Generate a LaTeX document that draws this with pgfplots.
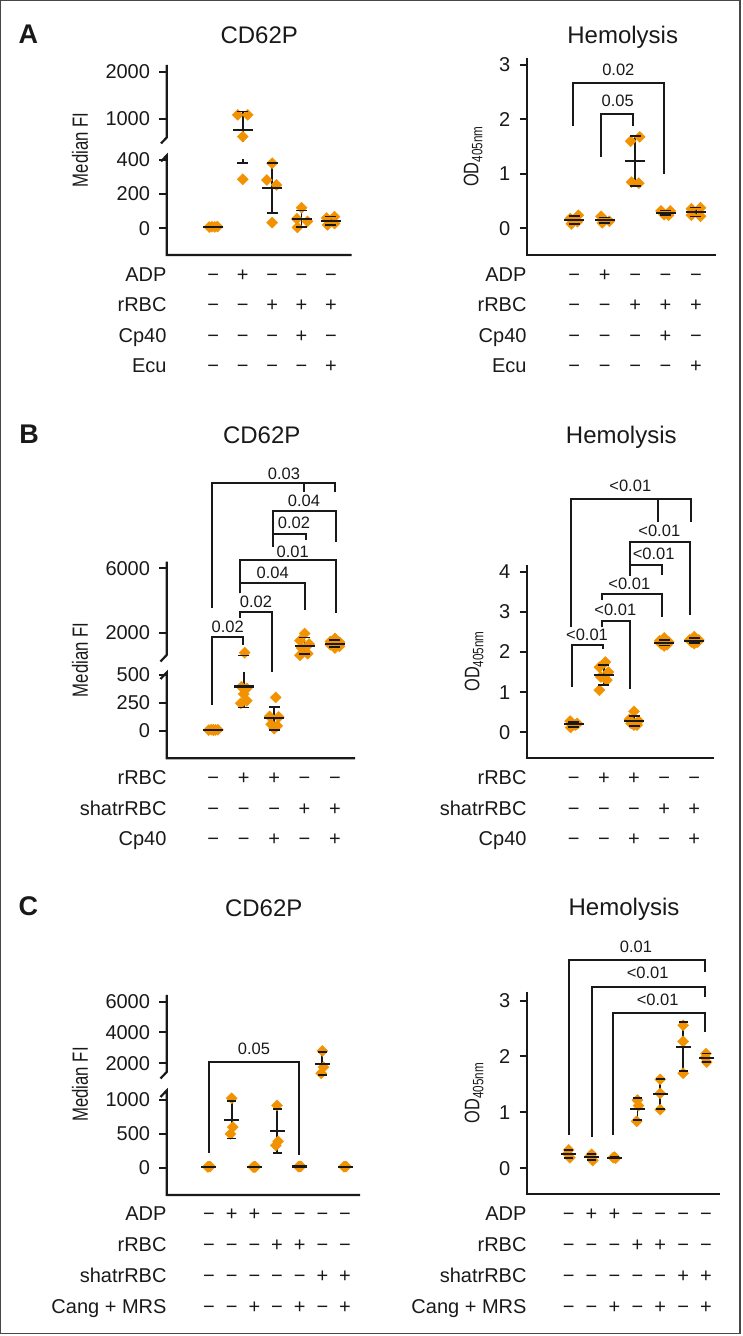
\documentclass[border=0pt]{standalone}
\usepackage{fontspec}
\setmainfont{Liberation Sans}
\usepackage{graphicx}
\usepackage{pgfplots}
\pgfplotsset{compat=1.18}
\definecolor{dot}{RGB}{242,146,0}
\definecolor{ink}{RGB}{25,25,25}
\newcommand{\fs}[1]{\fontsize{#1pt}{#1pt}\selectfont}
\newcommand{\mi}{−}
\newcommand{\signs}[4]{\foreach \s [count=\i] in {#4}{\node[anchor=base,inner sep=0pt,font=\fs{20},text=ink] at ({#1+(\i-1)*#2},#3) {\s};}}
\pgfplotsset{
 panel/.style={scale only axis, clip=false, anchor=south west,
   axis x line*=bottom, axis y line*=left, axis line style={draw=none},
   xtick=\empty, tick align=outside, major tick length=7.5pt,
   tick style={ink, line width=2pt},
   yticklabel style={font=\fs{20}, inner sep=0pt, text=ink, xshift=-9pt},
   /pgf/number format/assume math mode=true},
 pts/.style={only marks, mark=square*, mark size=3.9pt, color=dot, mark options={rotate=45, draw=none, fill=dot}},
 eb/.style={ink, line width=1.7pt, mark=-, mark size=5.5pt, mark options={solid, line width=1.7pt}},
 mn/.style={ink, only marks, mark=-, mark size=10pt, mark options={line width=2.1pt}},
}
\tikzset{br/.style={ink, line width=1.8pt}, pl/.style={font=\fs{16.5}, inner sep=0pt, text=ink},
 ttl/.style={anchor=base, inner sep=0pt, font=\fs{24}, text=ink},
 lab/.style={anchor=base east, inner sep=0pt, font=\fs{20}, text=ink},
 let/.style={anchor=base west, inner sep=0pt, font=\fs{27}\bfseries, text=ink},
 axl/.style={ink, line width=2.2pt},
 yl/.style={rotate=90, inner sep=0pt, text=ink}}
\newcommand{\mfi}{\scalebox{0.76}[1]{\fs{22}Median FI}}
\newcommand{\od}{\scalebox{0.78}[1]{\fs{21}OD\raisebox{-4pt}{\fs{15}405nm}}}
\begin{document}
\begin{tikzpicture}
\useasboundingbox (0,0) rectangle (742pt,1336pt);
% ---------------- A CD62P
\begin{axis}[panel, at={(166.7pt,1081pt)}, width=185pt, height=190pt,
  xmin=-0.585, xmax=5.704, ymin=-155.9, ymax=2142,
  y coord trafo/.code={\pgfmathparse{ifthenelse(#1<=430,#1*0.1713,109.6+(#1-1000)*0.047)}},
  ytick={0,200,400,1000,2000}, yticklabels={0,200,400,1000,2000}]
\addplot[pts] coordinates {(0.86,7) (0.95,9) (1.05,8) (1.14,10) (1.83,1080) (2.17,1080) (2.0,617) (2.0,286) (3.0,380) (2.82,282) (3.15,253) (3.0,33) (4.0,120) (3.84,55) (4.2,40) (3.86,5) (4.85,60) (5.12,68) (4.88,20) (5.12,28)};
\addplot[eb] coordinates {(1,6.5) (1,10)};
\addplot[eb, mark indices={1}] coordinates {(2,379) (2,405)};
\addplot[eb, mark indices={2}] coordinates {(2,511) (2,1153)};
\addplot[eb] coordinates {(3,91) (3,383)};
\addplot[eb] coordinates {(4,7) (4,103)};
\addplot[eb] coordinates {(5,20) (5,68)};
\addplot[mn] coordinates {(1,8.5) (2,766) (3,237) (4,55) (5,44)};
\end{axis}
% ---------------- A Hemolysis
\begin{axis}[panel, at={(527pt,1081pt)}, width=189pt, height=196.7pt,
  xmin=-0.556, xmax=5.658, ymin=-0.49, ymax=3.125, ytick={0,1,2,3}, yticklabels={0,1,2,3}]
\addplot[pts] coordinates {(0.87,0.18) (1.13,0.24) (0.9,0.08) (1.1,0.12) (1.88,0.22) (2.0,0.15) (2.15,0.13) (1.92,0.1) (2.85,1.6) (3.15,1.68) (2.88,0.85) (3.12,0.83) (3.85,0.32) (4.15,0.32) (3.95,0.25) (4.1,0.24) (4.85,0.36) (5.15,0.38) (4.85,0.24) (5.15,0.22)};
\addplot[eb] coordinates {(1,0.085) (1,0.225)};
\addplot[eb] coordinates {(2,0.10) (2,0.20)};
\addplot[eb] coordinates {(3,0.777) (3,1.703)};
\addplot[eb] coordinates {(4,0.24) (4,0.33)};
\addplot[eb] coordinates {(5,0.22) (5,0.38)};
\addplot[mn] coordinates {(1,0.155) (2,0.15) (3,1.24) (4,0.283) (5,0.30)};
\end{axis}
% ---------------- B CD62P
\begin{axis}[panel, at={(166.7pt,577.7pt)}, width=188.3pt, height=196.6pt,
  xmin=-0.533, xmax=5.658, ymin=-243.75, ymax=6410,
  y coord trafo/.code={\pgfmathparse{ifthenelse(#1<=527,#1*0.112,98.3+(#1-2000)*0.0161)}},
  ytick={0,250,500,2000,6000}, yticklabels={0,250,500,2000,6000}]
\addplot[pts] coordinates {(0.85,8) (0.93,12) (1.0,10) (1.07,9) (1.15,11) (1.0,7)
 (2.03,760) (1.92,395) (2.1,381) (2.0,330) (1.9,247) (2.1,270)
 (3.05,300) (2.85,130) (3.15,125) (2.9,60) (3.1,45) (3.0,20)
 (4.0,1950) (3.85,1500) (4.15,1300) (3.9,1050) (4.1,700) (3.85,600)
 (5.0,1650) (4.85,1450) (5.15,1400) (4.85,1250) (5.15,1150) (5.0,1050)};
\addplot[eb] coordinates {(1,7.5) (1,11.5)};
\addplot[eb, mark indices={1}] coordinates {(2,210) (2,527)};
\addplot[eb, only marks] coordinates {(2,584)};
\addplot[eb] coordinates {(3,11.5) (3,214.5)};
\addplot[eb] coordinates {(4,675) (4,1692)};
\addplot[eb] coordinates {(5,1107) (5,1544)};
\addplot[mn] coordinates {(1,9.5) (2,397) (3,113) (4,1183) (5,1325)};
\end{axis}
% ---------------- B Hemolysis
\begin{axis}[panel, at={(527pt,577.7pt)}, width=187.3pt, height=193.3pt,
  xmin=-0.549, xmax=5.663, ymin=-0.648, ymax=4.167, ytick={0,1,2,3,4}, yticklabels={0,1,2,3,4}]
\addplot[pts] coordinates {(0.88,0.28) (1.12,0.22) (0.95,0.2) (1.05,0.18) (0.9,0.12) (1.1,0.2)
 (2.05,1.75) (1.85,1.62) (2.15,1.5) (1.9,1.38) (2.1,1.3) (1.85,1.05)
 (3.0,0.52) (2.85,0.32) (3.15,0.28) (2.9,0.22) (3.1,0.18) (3.0,0.18)
 (4.0,2.35) (3.85,2.28) (4.15,2.25) (3.9,2.2) (4.1,2.18) (4.0,2.15)
 (5.0,2.38) (4.85,2.3) (5.15,2.3) (4.9,2.25) (5.1,2.24) (5.0,2.21)};
\addplot[eb] coordinates {(1,0.14) (1,0.26)};
\addplot[eb] coordinates {(2,1.185) (2,1.681)};
\addplot[eb] coordinates {(3,0.154) (3,0.412)};
\addplot[eb] coordinates {(4,2.163) (4,2.307)};
\addplot[eb] coordinates {(5,2.22) (5,2.34)};
\addplot[mn] coordinates {(1,0.2) (2,1.433) (3,0.283) (4,2.235) (5,2.28)};
\end{axis}
% ---------------- C CD62P
\begin{axis}[panel, at={(166.7pt,141pt)}, width=193.3pt, height=200pt,
  xmin=-0.866, xmax=7.662, ymin=-403.3, ymax=6435,
  y coord trafo/.code={\pgfmathparse{ifthenelse(#1<=1100,#1*0.0677,104.4+(#1-2000)*0.0154)}},
  ytick={0,500,1000,2000,4000,6000}, yticklabels={0,500,1000,2000,4000,6000}]
\addplot[pts] coordinates {(0.95,12) (1.0,15) (1.05,18) (2.0,1025) (2.05,600) (1.95,500) (2.95,10) (3.0,12) (3.05,14) (4.0,920) (4.05,390) (3.95,330) (4.95,15) (5.0,18) (5.05,20) (6.0,2800) (6.05,1750) (5.95,1350) (6.95,14) (7.0,16) (7.05,18)};
\addplot[eb, mark size=4.5pt] coordinates {(2,429) (2,987)};
\addplot[eb, mark size=4.5pt] coordinates {(4,222) (4,872)};
\addplot[eb, mark size=4.5pt] coordinates {(6,1218) (6,2716)};
\addplot[mn, mark size=7.5pt] coordinates {(1,15) (2,708) (3,12) (4,547) (5,18) (6,1967) (7,16)};
\end{axis}
% ---------------- C Hemolysis
\begin{axis}[panel, at={(527pt,141.7pt)}, width=193.3pt, height=202.6pt,
  xmin=-0.823, xmax=7.625, ymin=-0.465, ymax=3.159, ytick={0,1,2,3}, yticklabels={0,1,2,3}]
\addplot[pts] coordinates {(1.0,0.33) (0.95,0.26) (1.05,0.19) (2.0,0.25) (1.95,0.22) (2.05,0.14) (3.0,0.2) (2.95,0.19) (3.05,0.18) (4.0,1.22) (4.05,1.12) (3.97,0.84) (5.0,1.59) (5.0,1.34) (5.0,1.05) (6.0,2.56) (6.0,2.27) (6.0,1.70) (7.0,2.05) (6.97,1.98) (7.03,1.9)};
\addplot[eb, mark size=4.5pt] coordinates {(1,0.19) (1,0.33)};
\addplot[eb, mark size=4.5pt] coordinates {(2,0.146) (2,0.26)};
\addplot[eb, mark size=4.5pt] coordinates {(3,0.18) (3,0.2)};
\addplot[eb, mark size=4.5pt] coordinates {(4,0.863) (4,1.257)};
\addplot[eb, mark size=4.5pt] coordinates {(5,1.057) (5,1.597)};
\addplot[eb, mark size=4.5pt] coordinates {(6,1.739) (6,2.614)};
\addplot[eb, mark size=4.5pt] coordinates {(7,1.902) (7,2.052)};
\addplot[mn, mark size=7.5pt] coordinates {(1,0.26) (2,0.203) (3,0.19) (4,1.06) (5,1.327) (6,2.177) (7,1.977)};
\end{axis}
% ================= annotations (pixel coordinates, y downward)
\begin{scope}[x=1pt,y=-1pt,yshift=1336pt]
\draw[line width=1.3pt, ink!80] (0.65,0.65) rectangle (740,1333.3);
% axis lines
\draw[axl] (161,161.5) -- (166.7,155.5) -- (166.7,255) -- (351.7,255);
\draw[axl] (166.7,65) -- (166.7,137.5) -- (161,143.5);
\draw[axl] (527,58.3) -- (527,255) -- (716,255);
\draw[axl] (160.5,679) -- (166.7,672.5) -- (166.7,758.3) -- (355,758.3);
\draw[axl] (166.7,561.7) -- (166.7,655) -- (160.5,661.5);
\draw[axl] (527,565) -- (527,758.3) -- (714.3,758.3);
\draw[axl] (160.5,1097) -- (166.7,1090.5) -- (166.7,1195) -- (360,1195);
\draw[axl] (166.7,995) -- (166.7,1072) -- (160.5,1078.5);
\draw[axl] (527,991.7) -- (527,1194.3) -- (720.3,1194.3);
% letters and titles
\node[let] at (18.5,43.3) {A};
\node[let] at (19.3,443.3) {B};
\node[let] at (18.5,916) {C};
\node[ttl] at (259.2,43.3) {CD62P};
\node[ttl] at (622.7,43.3) {Hemolysis};
\node[ttl] at (261.7,443.3) {CD62P};
\node[ttl] at (621.3,443.3) {Hemolysis};
\node[ttl] at (263.7,916.5) {CD62P};
\node[ttl] at (624,916) {Hemolysis};
% y labels
\node[yl] at (80,150) {\mfi};
\node[yl] at (80,660) {\mfi};
\node[yl] at (80,1084.5) {\mfi};
\node[yl] at (473,156.7) {\od};
\node[yl] at (474,661.5) {\od};
\node[yl] at (474,1093) {\od};
% tables A
\node[lab] at (166.7,281.7) {ADP}; \signs{213.3}{29.4}{281.7}{\mi,+,\mi,\mi,\mi}
\node[lab] at (166.7,312) {rRBC}; \signs{213.3}{29.4}{312}{\mi,\mi,+,+,+}
\node[lab] at (166.7,342.3) {Cp40}; \signs{213.3}{29.4}{342.3}{\mi,\mi,\mi,+,\mi}
\node[lab] at (166.7,372.7) {Ecu}; \signs{213.3}{29.4}{372.7}{\mi,\mi,\mi,\mi,+}
\node[lab] at (526.7,281.7) {ADP}; \signs{574.3}{30.4}{281.7}{\mi,+,\mi,\mi,\mi}
\node[lab] at (526.7,312) {rRBC}; \signs{574.3}{30.4}{312}{\mi,\mi,+,+,+}
\node[lab] at (526.7,342.3) {Cp40}; \signs{574.3}{30.4}{342.3}{\mi,\mi,\mi,+,\mi}
\node[lab] at (526.7,372.7) {Ecu}; \signs{574.3}{30.4}{372.7}{\mi,\mi,\mi,\mi,+}
% tables B
\node[lab] at (166.7,785) {rRBC}; \signs{213.3}{30.4}{785}{\mi,+,+,\mi,\mi}
\node[lab] at (166.7,815.5) {shatrRBC}; \signs{213.3}{30.4}{815.5}{\mi,\mi,\mi,+,+}
\node[lab] at (166.7,846) {Cp40}; \signs{213.3}{30.4}{846}{\mi,\mi,+,\mi,+}
\node[lab] at (526.7,785) {rRBC}; \signs{573.7}{30.15}{785}{\mi,+,+,\mi,\mi}
\node[lab] at (526.7,815.5) {shatrRBC}; \signs{573.7}{30.15}{815.5}{\mi,\mi,\mi,+,+}
\node[lab] at (526.7,846) {Cp40}; \signs{573.7}{30.15}{846}{\mi,\mi,+,\mi,+}
% tables C
\node[lab] at (166.7,1221) {ADP}; \signs{209}{22.67}{1221}{\mi,+,+,\mi,\mi,\mi,\mi}
\node[lab] at (166.7,1252) {rRBC}; \signs{209}{22.67}{1252}{\mi,\mi,\mi,+,+,\mi,\mi}
\node[lab] at (166.7,1283) {shatrRBC}; \signs{209}{22.67}{1283}{\mi,\mi,\mi,\mi,\mi,+,+}
\node[lab] at (166.7,1314) {Cang + MRS}; \signs{209}{22.67}{1314}{\mi,\mi,+,\mi,+,\mi,+}
\node[lab] at (526.7,1221) {ADP}; \signs{568.7}{22.88}{1221}{\mi,+,+,\mi,\mi,\mi,\mi}
\node[lab] at (526.7,1252) {rRBC}; \signs{568.7}{22.88}{1252}{\mi,\mi,\mi,+,+,\mi,\mi}
\node[lab] at (526.7,1283) {shatrRBC}; \signs{568.7}{22.88}{1283}{\mi,\mi,\mi,\mi,\mi,+,+}
\node[lab] at (526.7,1314) {Cang + MRS}; \signs{568.7}{22.88}{1314}{\mi,\mi,+,\mi,+,\mi,+}
% brackets A hemolysis
\draw[br] (572.7,126) -- (572.7,82.7) -- (664.3,82.7) -- (664.3,174);
\node[pl] at (618.3,70) {0.02};
\draw[br] (601,156.7) -- (601,114.3) -- (632.7,114.3) -- (632.7,126);
\node[pl] at (617.7,101) {0.05};
% brackets B CD62P
\draw[br] (212.3,705) -- (212.3,637.3) -- (242.7,637.3) -- (242.7,645);
\node[pl] at (227.7,626.7) {0.02};
\draw[br] (240,618.3) -- (240,611.7) -- (271.7,611.7) -- (271.7,671.7);
\node[pl] at (256,601.7) {0.02};
\draw[br] (240,593.3) -- (240,582.7) -- (305,582.7) -- (305,610);
\node[pl] at (272.7,572.7) {0.04};
\draw[br] (240,593.3) -- (240,560) -- (335.7,560) -- (335.7,612.7);
\node[pl] at (292.7,551.7) {0.01};
\draw[br] (273,546.7) -- (273,534) -- (305.7,534) -- (305.7,540);
\node[pl] at (294,522.7) {0.02};
\draw[br] (273,546.7) -- (273,510.7) -- (336,510.7) -- (336,541.7);
\node[pl] at (304,501) {0.04};
\draw[br] (212.3,608.3) -- (212.3,482.7) -- (335,482.7) -- (335,491.7);
\draw[br] (304.3,482.7) -- (304.3,491.7);
\node[pl] at (284,474) {0.03};
% brackets B hemolysis
\draw[br] (572,686.7) -- (572,645) -- (602.7,645) -- (602.7,649.3);
\node[pl] at (587,635) {<0.01};
\draw[br] (601.7,626.7) -- (601.7,621) -- (630.3,621) -- (630.3,689.3);
\node[pl] at (615.3,610) {<0.01};
\draw[br] (601.7,600) -- (601.7,594) -- (662,594) -- (662,617.3);
\node[pl] at (629.3,584.3) {<0.01};
\draw[br] (630.3,576) -- (630.3,565) -- (662,565) -- (662,575);
\node[pl] at (653.7,554) {<0.01};
\draw[br] (630.3,576) -- (630.3,541.7) -- (690.3,541.7) -- (690.3,615);
\node[pl] at (659.3,531) {<0.01};
\draw[br] (571,626.7) -- (571,499) -- (691,499) -- (691,521.7);
\draw[br] (657.7,499) -- (657.7,521.7);
\node[pl] at (630.3,485.7) {<0.01};
% brackets C
\draw[br] (209,1153.3) -- (209,1061.7) -- (299.3,1061.7) -- (299.3,1155);
\node[pl] at (254,1049) {0.05};
\draw[br] (568.7,1135) -- (568.7,960) -- (705,960) -- (705,971.7);
\node[pl] at (636,946.7) {0.01};
\draw[br] (591.7,1136.7) -- (591.7,986.7) -- (705,986.7) -- (705,997.3);
\node[pl] at (647.7,973.3) {<0.01};
\draw[br] (612.7,1135) -- (612.7,1013.3) -- (705,1013.3) -- (705,1031.7);
\node[pl] at (657.7,1000) {<0.01};
\end{scope}
\end{tikzpicture}
\end{document}
